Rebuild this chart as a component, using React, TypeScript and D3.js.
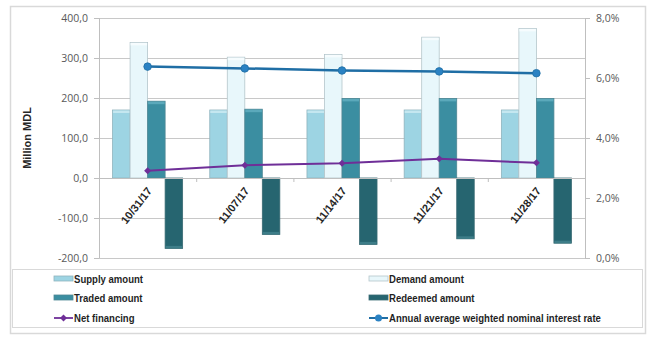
import React from "react";
import * as d3 from "d3";

// Auction dates
const categories = ["10/31/17", "11/07/17", "11/14/17", "11/21/17", "11/28/17"];

// Million MDL
const supplyAmount = [170, 170, 170, 170, 170];
const demandAmount = [339, 302, 309, 352, 374];
const tradedAmount = [192, 172, 199, 199, 199];
const redeemedAmount = [-176, -141, -166, -152, -163];
const netFinancing = [18, 32, 37, 48, 38];

// Percent
const interestRate = [6.38, 6.32, 6.25, 6.22, 6.16];

const leftTicks = [400, 300, 200, 100, 0, -100, -200];
const rightTicks = [8, 6, 4, 2, 0];

const W = 652;
const H = 338;
const plot = { left: 99, right: 585, top: 18, bottom: 258 };

const locale = d3.formatLocale({
  decimal: ",",
  thousands: " ",
  grouping: [3],
  currency: ["", ""],
  minus: "-",
});
const fmtLeft = locale.format(".1f");
const fmtRight = (v: number) => locale.format(".1f")(v) + "%";

const barSeries = [
  { name: "Supply amount", values: supplyAmount, fill: "#9dd4e3", top: "#c4e7f0", stroke: "#8fb3bd" },
  { name: "Demand amount", values: demandAmount, fill: "#e8f7fb", top: "#f6fcfe", stroke: "#b5c6cb" },
  { name: "Traded amount", values: tradedAmount, fill: "#3b8ea1", top: "#5ba9bb", stroke: "#4f8794" },
  { name: "Redeemed amount", values: redeemedAmount, fill: "#266570", top: "#3d7d88", stroke: "#3a6b74" },
];

const NET_COLOR = "#6f2f98";
const RATE_COLOR = "#1f6ea5";
const RATE_MARK = "#2b82c3";

export default function App() {
  const yL = d3.scaleLinear().domain([-200, 400]).range([plot.bottom, plot.top]);
  const yR = d3.scaleLinear().domain([0, 8]).range([plot.bottom, plot.top]);
  const x0 = d3.scaleBand<string>().domain(categories).range([plot.left, plot.right]).padding(0);
  const catW = x0.bandwidth();
  const gapRatio = 1.55;
  const barW = catW / (barSeries.length + gapRatio);
  const groupW = barW * barSeries.length;
  const x1 = d3
    .scaleBand<string>()
    .domain(barSeries.map((s) => s.name))
    .range([(catW - groupW) / 2, (catW + groupW) / 2])
    .padding(0);
  const cx = (c: string) => (x0(c) as number) + catW / 2;

  const netLine = d3
    .line<number>()
    .x((_, i) => cx(categories[i]))
    .y((d) => yL(d));
  const rateLine = d3
    .line<number>()
    .x((_, i) => cx(categories[i]))
    .y((d) => yR(d));

  const axisFont = "'Open Sans', 'Liberation Sans', Arial, sans-serif";
  const boldFont = "'Liberation Sans', Arial, sans-serif";

  const legendItems = [
    { label: "Supply amount", kind: "bar", s: barSeries[0], col: 0, row: 0 },
    { label: "Demand amount", kind: "bar", s: barSeries[1], col: 1, row: 0 },
    { label: "Traded amount", kind: "bar", s: barSeries[2], col: 0, row: 1 },
    { label: "Redeemed amount", kind: "bar", s: barSeries[3], col: 1, row: 1 },
    { label: "Net financing", kind: "net", s: null, col: 0, row: 2 },
    { label: "Annual average weighted nominal interest rate", kind: "rate", s: null, col: 1, row: 2 },
  ];
  const legendColX = [54, 369];
  const legendRowY = [279, 298, 318];

  const zeroY = yL(0);

  return (
    <svg
      width={W}
      height={H}
      viewBox={`0 0 ${W} ${H}`}
      style={{ position: "absolute", left: 0, top: 0, background: "#ffffff" }}
    >
      {/* chart frame */}
      <rect x={10.5} y={6.5} width={635} height={327} fill="#ffffff" stroke="#d9d9d9" strokeWidth={1.5} />

      {/* gridlines */}
      {leftTicks.map((t) => (
        <line
          key={"g" + t}
          x1={plot.left}
          x2={plot.right}
          y1={Math.round(yL(t)) + 0.5}
          y2={Math.round(yL(t)) + 0.5}
          stroke="#c8c8c8"
          strokeWidth={1}
        />
      ))}

      {/* axis lines */}
      <line x1={plot.left + 0.5} x2={plot.left + 0.5} y1={plot.top} y2={plot.bottom} stroke="#bfbfbf" />
      <line x1={plot.right + 0.5} x2={plot.right + 0.5} y1={plot.top} y2={plot.bottom} stroke="#bfbfbf" />

      {/* left axis ticks and labels */}
      {leftTicks.map((t) => (
        <g key={"l" + t}>
          <line
            x1={plot.left - 5}
            x2={plot.left}
            y1={Math.round(yL(t)) + 0.5}
            y2={Math.round(yL(t)) + 0.5}
            stroke="#bfbfbf"
          />
          <text
            x={88}
            y={yL(t)}
            dy="0.35em"
            textAnchor="end"
            fontFamily={axisFont}
            fontSize={10.5}
            fill="#595959"
          >
            {fmtLeft(t)}
          </text>
        </g>
      ))}

      {/* right axis ticks and labels */}
      {rightTicks.map((t) => (
        <g key={"r" + t}>
          <line
            x1={plot.right}
            x2={plot.right + 5}
            y1={Math.round(yR(t)) + 0.5}
            y2={Math.round(yR(t)) + 0.5}
            stroke="#bfbfbf"
          />
          <text
            x={596}
            y={yR(t)}
            dy="0.35em"
            textAnchor="start"
            fontFamily={axisFont}
            fontSize={10.5}
            fill="#595959"
          >
            {fmtRight(t)}
          </text>
        </g>
      ))}

      {/* left axis title */}
      <text
        transform={`translate(31, ${yL(100)}) rotate(-90)`}
        textAnchor="middle"
        fontFamily={boldFont}
        fontWeight="bold"
        fontSize={11}
        fill="#262626"
      >
        Million MDL
      </text>

      {/* bars */}
      {barSeries.map((s) => (
        <g key={s.name}>
          {s.values.map((v, i) => {
            const c = categories[i];
            const bx = (x0(c) as number) + (x1(s.name) as number);
            const y0 = yL(Math.max(0, v));
            const y1v = yL(Math.min(0, v));
            const h = y1v - y0;
            const capY = v >= 0 ? y0 : y1v - 3;
            return (
              <g key={c}>
                <rect x={bx} y={y0} width={barW} height={h} fill={s.fill} stroke={s.stroke} strokeWidth={0.8} />
                <rect x={bx + 0.5} y={capY + 0.5} width={barW - 1} height={2.5} fill={s.top} />
              </g>
            );
          })}
        </g>
      ))}

      {/* category axis at zero */}
      <line x1={plot.left} x2={plot.right} y1={Math.round(zeroY) + 0.5} y2={Math.round(zeroY) + 0.5} stroke="#bfbfbf" />
      {categories.map((c, i) =>
        i === 0 ? null : (
          <line
            key={"ct" + c}
            x1={(x0(c) as number) + 0.5}
            x2={(x0(c) as number) + 0.5}
            y1={zeroY}
            y2={zeroY + 4}
            stroke="#bfbfbf"
          />
        )
      )}
      {categories.map((c) => (
        <text
          key={"cl" + c}
          transform={`translate(${cx(c) + 5}, ${zeroY + 13}) rotate(-52)`}
          textAnchor="end"
          fontFamily={boldFont}
          fontWeight="bold"
          fontSize={11}
          fill="#262626"
        >
          {c}
        </text>
      ))}

      {/* net financing */}
      <path d={netLine(netFinancing) || ""} fill="none" stroke={NET_COLOR} strokeWidth={2} />
      {netFinancing.map((v, i) => {
        const px = cx(categories[i]);
        const py = yL(v);
        return (
          <path
            key={"nm" + i}
            d={`M${px},${py - 3.5}L${px + 3.5},${py}L${px},${py + 3.5}L${px - 3.5},${py}Z`}
            fill={NET_COLOR}
          />
        );
      })}

      {/* interest rate */}
      <path d={rateLine(interestRate) || ""} fill="none" stroke={RATE_COLOR} strokeWidth={2.5} />
      {interestRate.map((v, i) => (
        <circle key={"rm" + i} cx={cx(categories[i])} cy={yR(v)} r={3.8} fill={RATE_MARK} stroke={RATE_COLOR} strokeWidth={0.8} />
      ))}

      {/* legend */}
      <rect x={12.5} y={269.5} width={630} height={58} fill="#ffffff" stroke="#d9d9d9" strokeWidth={1} />
      {legendItems.map((it) => {
        const lx = legendColX[it.col];
        const ly = legendRowY[it.row];
        let sym: React.ReactNode = null;
        if (it.kind === "bar" && it.s) {
          sym = <rect x={lx} y={ly - 3} width={19} height={5} fill={it.s.fill} stroke={it.s.stroke} strokeWidth={0.8} />;
        } else if (it.kind === "net") {
          sym = (
            <g>
              <line x1={lx} x2={lx + 19} y1={ly} y2={ly} stroke={NET_COLOR} strokeWidth={1.8} />
              <path d={`M${lx + 9.5},${ly - 3.5}L${lx + 13},${ly}L${lx + 9.5},${ly + 3.5}L${lx + 6},${ly}Z`} fill={NET_COLOR} />
            </g>
          );
        } else {
          sym = (
            <g>
              <line x1={lx} x2={lx + 19} y1={ly} y2={ly} stroke={RATE_COLOR} strokeWidth={2} />
              <circle cx={lx + 9.5} cy={ly} r={3.5} fill={RATE_MARK} />
            </g>
          );
        }
        return (
          <g key={it.label}>
            {sym}
            <text
              transform={`translate(${lx + 20}, ${ly}) scale(0.87, 1)`}
              dy="0.35em"
              fontFamily={boldFont}
              fontWeight="bold"
              fontSize={11}
              fill="#1f1f1f"
            >
              {it.label}
            </text>
          </g>
        );
      })}
    </svg>
  );
}
